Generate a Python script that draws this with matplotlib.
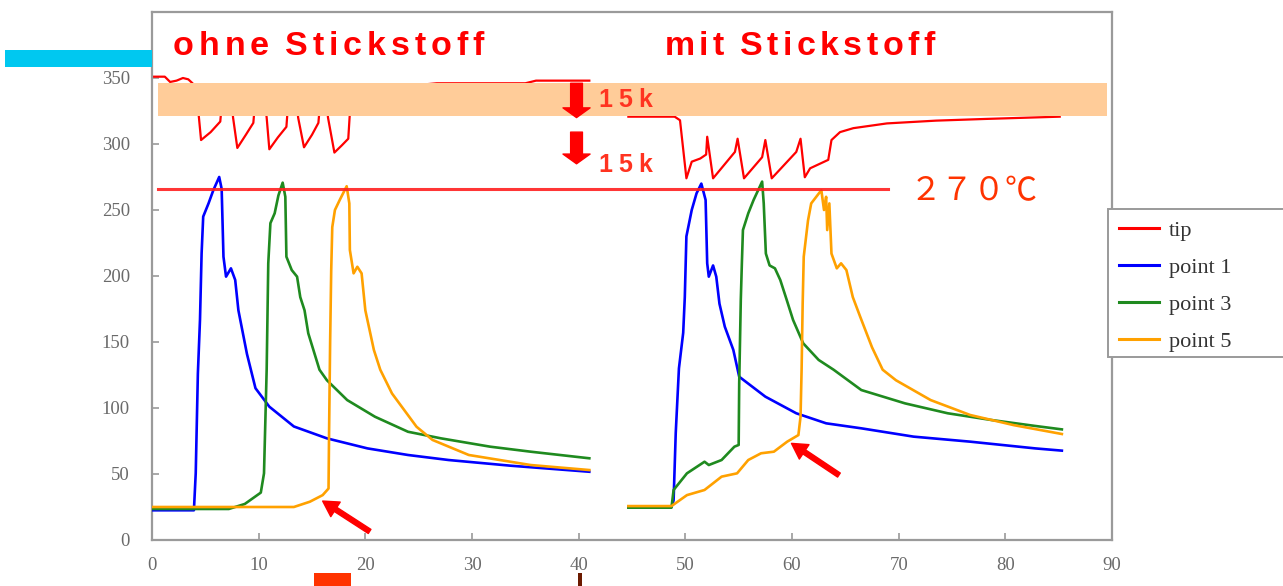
import matplotlib
matplotlib.use("Agg")
import matplotlib.pyplot as plt
from matplotlib.patches import Rectangle

# ---------------- data ----------------
tip_left_x = [0, 1.2, 1.7, 2.3, 2.9, 3.4, 3.8, 4.2, 4.4, 4.6, 5.5, 6.4, 6.6, 7.4, 7.6, 8.0, 8.8, 9.5,
              9.7, 10.5, 10.75, 11.0, 11.8, 12.6, 12.8, 13.5, 13.7, 14.25, 15.0, 15.6, 15.8, 16.3, 16.5,
              17.1, 17.8, 18.4, 18.6, 19.5, 22.0, 24.0, 26.7, 30.0, 35.0, 36.0, 41.0]
tip_left_y = [351, 351, 347, 348, 350, 349, 346, 338, 320, 303, 309, 317, 335, 338, 320, 297, 307, 316,
              335, 338, 320, 296, 305, 313, 335, 338, 320, 297.5, 307, 316, 335, 338, 320,
              293.5, 299, 304, 330, 336, 340, 344, 346, 346, 346, 348, 348]

tip_right_x = [44.66, 49.0, 49.5, 50.1, 50.6, 51.4, 51.95, 52.05, 52.6, 54.65, 54.9, 55.5, 57.2, 57.5,
               58.1, 60.4, 60.8, 61.2, 61.7, 63.4, 63.7, 64.5, 65.75, 68.9, 73.5, 78.2, 85.1]
tip_right_y = [320.7, 320.7, 318, 274, 286.6, 289, 292, 305.5, 274, 294, 304, 274, 290, 303,
               274, 294, 304, 274.8, 281.6, 288, 303, 309, 312, 315.6, 317.7, 319, 320.7]

p1_left_x = [0, 3.93, 4.1, 4.3, 4.5, 4.65, 4.8, 5.3, 5.75, 6.3, 6.53, 6.7, 6.94, 7.4, 7.8, 8.1, 8.9,
             9.3, 9.7, 11.0, 13.3, 16.4, 20.2, 24.0, 27.8, 33.6, 41.0]
p1_left_y = [22.5, 22.5, 50.7, 126, 167, 217, 245, 255, 265, 275, 266, 214.6, 199.5, 205.8, 197, 174, 141,
             128, 115, 101, 86, 77, 69.4, 64.4, 60.6, 56.3, 51.7]

p3_left_x = [0, 7.2, 8.7, 10.2, 10.5, 10.75, 10.9, 11.1, 11.5, 11.85, 12.25, 12.5, 12.6, 13.1, 13.6,
             13.9, 14.3, 14.65, 15.7, 16.4, 18.3, 20.9, 24.0, 27.1, 31.7, 35.5, 41.0]
p3_left_y = [23.5, 23.5, 27.3, 35.9, 50.5, 129, 209.6, 240, 247.5, 261, 270.7, 260, 214.6, 204.5, 199.5,
             184, 174, 156.6, 129, 121, 106, 93.4, 82, 77, 70.7, 66.9, 61.9]

p5_left_x = [0, 13.3, 14.8, 16.0, 16.55, 16.6, 16.7, 16.8, 16.9, 17.15, 17.6, 18.25, 18.5, 18.55, 18.9,
             19.25, 19.65, 20.0, 20.4, 20.8, 21.4, 22.5, 24.8, 26.3, 29.7, 35.5, 41.0]
p5_left_y = [25, 25, 29, 34, 39, 81, 150, 204, 237, 250, 257.6, 268, 255, 219.7, 202,
             207, 202, 174, 159, 144, 129, 111, 85.8, 75.8, 64.4, 56.8, 53]

p1_right_x = [44.66, 48.7, 48.9, 49.1, 49.4, 49.8, 49.95, 50.1, 50.6, 51.05, 51.5, 51.9, 52.05, 52.2,
              52.6, 52.9, 53.2, 53.7, 54.5, 55.05, 57.5, 60.4, 63.2, 66.5, 71.4, 76.7, 82.8, 85.3]
p1_right_y = [25, 25, 30, 81, 130, 157, 184, 230, 250, 262.6, 270, 257.6, 209.6, 199.5,
              208, 199.5, 179, 161.6, 144, 123.7, 108.6, 96, 88.4, 84.6, 78.3, 74.5, 69.4, 67.7]

p3_right_x = [44.66, 48.7, 48.9, 50.15, 51.8, 52.2, 53.4, 54.6, 55.0, 55.05, 55.2, 55.3, 55.4, 55.9,
              56.4, 57.2, 57.35, 57.55, 57.9, 58.4, 58.9, 59.5, 60.1, 61.05, 62.5, 63.9, 66.5, 70.6,
              74.6, 78.7, 82.8, 85.3]
p3_right_y = [24.5, 24.5, 37.9, 50.5, 59.3, 56.8, 60.6, 70.7, 72, 118.7, 182, 209.6, 234.8, 247.5,
              257.6, 271.5, 255, 217, 208, 205.8, 197, 182, 166.7, 149, 136.4, 129, 113.6, 103.5,
              96, 90.9, 86.4, 83.8]

p5_right_x = [44.66, 48.7, 50.15, 51.8, 53.4, 54.85, 55.9, 57.1, 58.3, 59.55, 60.6, 60.8, 60.9, 61.0,
              61.1, 61.5, 61.8, 62.75, 63.0, 63.2, 63.3, 63.5, 63.7, 64.2, 64.6, 65.1, 65.7, 66.4,
              67.5, 68.5, 69.75, 73.0, 76.7, 80.8, 85.3]
p5_right_y = [25.7, 25.7, 34, 37.9, 48, 50.5, 60.6, 65.7, 66.9, 74.5, 79.5, 93.4, 129, 179,
              214.6, 242, 255, 265, 250, 260, 234.8, 255, 217, 205.8, 209.6, 204.5, 184, 169,
              146, 129, 121, 106, 94.7, 87, 80.3]

series_names = ["tip", "point 1", "point 3", "point 5"]
series_colors = ["#FF0000", "#0000FF", "#1F8A1F", "#FFA100"]

x_ticks = [0, 10, 20, 30, 40, 50, 60, 70, 80, 90]
y_ticks = [0, 50, 100, 150, 200, 250, 300, 350]

band_range = (321.4, 345.9)
band_x = (0.6, 89.5)
limit_value = 266
limit_x = (0.6, 69.0)

title_left = "ohne Stickstoff"
title_right = "mit Stickstoff"
step_label = "15k"
limit_label = "２７０℃"

# ---------------- figure ----------------
W, H = 1283, 586
fig = plt.figure(figsize=(W / 100, H / 100), dpi=100)
ax = fig.add_axes([152 / W, (H - 540) / H, 960 / W, 528 / H])
ax.set_xlim(0, 90)
ax.set_ylim(0, 400)

lw = 1.9
ax.plot(tip_left_x, tip_left_y, color=series_colors[0], lw=1.6, label=series_names[0], zorder=2)
ax.plot(tip_right_x, tip_right_y, color=series_colors[0], lw=1.6, zorder=2)
ax.plot(p1_left_x, p1_left_y, color=series_colors[1], lw=lw, label=series_names[1], zorder=3)
ax.plot(p1_right_x, p1_right_y, color=series_colors[1], lw=lw, zorder=3)
ax.plot(p3_left_x, p3_left_y, color=series_colors[2], lw=lw, label=series_names[2], zorder=4)
ax.plot(p3_right_x, p3_right_y, color=series_colors[2], lw=lw, zorder=4)
ax.plot(p5_left_x, p5_left_y, color=series_colors[3], lw=lw, label=series_names[3], zorder=5)
ax.plot(p5_right_x, p5_right_y, color=series_colors[3], lw=lw, zorder=5)

# band covering tip peaks
ax.add_patch(Rectangle((band_x[0], band_range[0]), band_x[1] - band_x[0],
                       band_range[1] - band_range[0], facecolor="#FFCC99",
                       edgecolor="none", zorder=2.5))
# limit line
ax.plot(limit_x, [limit_value, limit_value], color="#FF2020", lw=2.2, alpha=0.9, zorder=6)

# big down arrows
for y0, y1 in [(346.0, 320.0), (309.0, 285.0)]:
    ax.annotate("", xy=(39.8, y1), xytext=(39.8, y0),
                arrowprops=dict(arrowstyle="simple,head_width=1.95,head_length=0.7,tail_width=0.85",
                                color="#FF0000", shrinkA=0, shrinkB=0, mutation_scale=10),
                zorder=7)
# small pointer arrows
for tail, tip in [((20.4, 6.5), (16.0, 29.5)), ((64.4, 49.2), (59.95, 73.2))]:
    ax.annotate("", xy=tip, xytext=tail,
                arrowprops=dict(arrowstyle="simple,head_width=1.25,head_length=1.1,tail_width=0.35",
                                color="#FF0000", shrinkA=0, shrinkB=0, mutation_scale=10),
                zorder=7)

# axis styling
for s in ax.spines.values():
    s.set_color("#9A9A9A")
    s.set_linewidth(1.6)
ax.set_xticks(x_ticks)
ax.set_yticks(y_ticks)
ax.tick_params(direction="in", length=5, width=1.2, color="#9A9A9A",
               labelcolor="#6A6A6A", labelsize=13.5)
ax.tick_params(axis="x", pad=12)
ax.tick_params(axis="y", pad=16)
for lab in ax.get_xticklabels() + ax.get_yticklabels():
    lab.set_family("Liberation Serif")

# legend (frame drawn separately: it runs off the right edge in the source)
fig.patches.append(Rectangle((1107.5 / W, 1 - 357 / H), 190 / W, 148 / H,
                             transform=fig.transFigure, facecolor="white",
                             edgecolor="#9A9A9A", linewidth=1.4, zorder=8))
handles, labels = ax.get_legend_handles_labels()
leg = fig.legend(handles, labels, loc="upper left", bbox_to_anchor=(1112 / W, 1 - 214 / H),
                 bbox_transform=fig.transFigure, borderaxespad=0, frameon=False,
                 prop={"family": "Liberation Serif", "size": 16},
                 handlelength=1.8, handletextpad=0.45, labelspacing=0.74, borderpad=0.3)
leg.set_zorder(9)
for t in leg.get_texts():
    t.set_color("#333333")
for h in leg.get_lines():
    h.set_linewidth(2.2)

# spaced text helper (figure pixels, y from top)
renderer = fig.canvas.get_renderer()


def spaced_text(x0, x1, y_base, s, space_extra=12, **kw):
    chars = []
    for ch in s:
        if ch == " ":
            chars.append(None)
            continue
        t = fig.text(0, 1 - y_base / H, ch, va="baseline", ha="left", **kw)
        chars.append(t)
    widths = [(t.get_window_extent(renderer).width if t is not None else 0) for t in chars]
    n_sp = sum(1 for t in chars if t is None)
    n_gaps = len(chars) - 1 - n_sp
    gap = (x1 - x0 - sum(widths) - n_sp * space_extra) / max(n_gaps, 1)
    x = x0
    for t, w in zip(chars, widths):
        if t is None:
            x += space_extra
            continue
        t.set_x(x / W)
        x += w + gap


title_kw = dict(color="#FF0000", fontweight="bold", family="Liberation Sans", fontsize=24.5)
spaced_text(173, 484, 55, title_left, space_extra=11, **title_kw)
spaced_text(664.5, 935, 55, title_right, space_extra=11, **title_kw)
k_kw = dict(color="#FF3320", fontweight="bold", family="Liberation Sans", fontsize=18)
spaced_text(598.5, 652, 107, step_label, **k_kw)
spaced_text(598.5, 652, 172.5, step_label, **k_kw)

fig.text(910 / W, 1 - 191 / H, limit_label, color="#FF3300", fontsize=23,
         family=["Noto Sans CJK JP", "DejaVu Sans"], va="center", ha="left")

# decorative fragments from the source slide
fig.patches.append(Rectangle((5 / W, 1 - 67 / H), 147 / W, 17 / H, transform=fig.transFigure,
                             facecolor="#00C8F0", edgecolor="none"))
fig.patches.append(Rectangle((314 / W, 0), 37 / W, 13 / H, transform=fig.transFigure,
                             facecolor="#FF3300", edgecolor="none"))
fig.patches.append(Rectangle((578 / W, 0), 4 / W, 13 / H, transform=fig.transFigure,
                             facecolor="#6B1A00", edgecolor="none"))

fig.savefig("out.png", dpi=100)
